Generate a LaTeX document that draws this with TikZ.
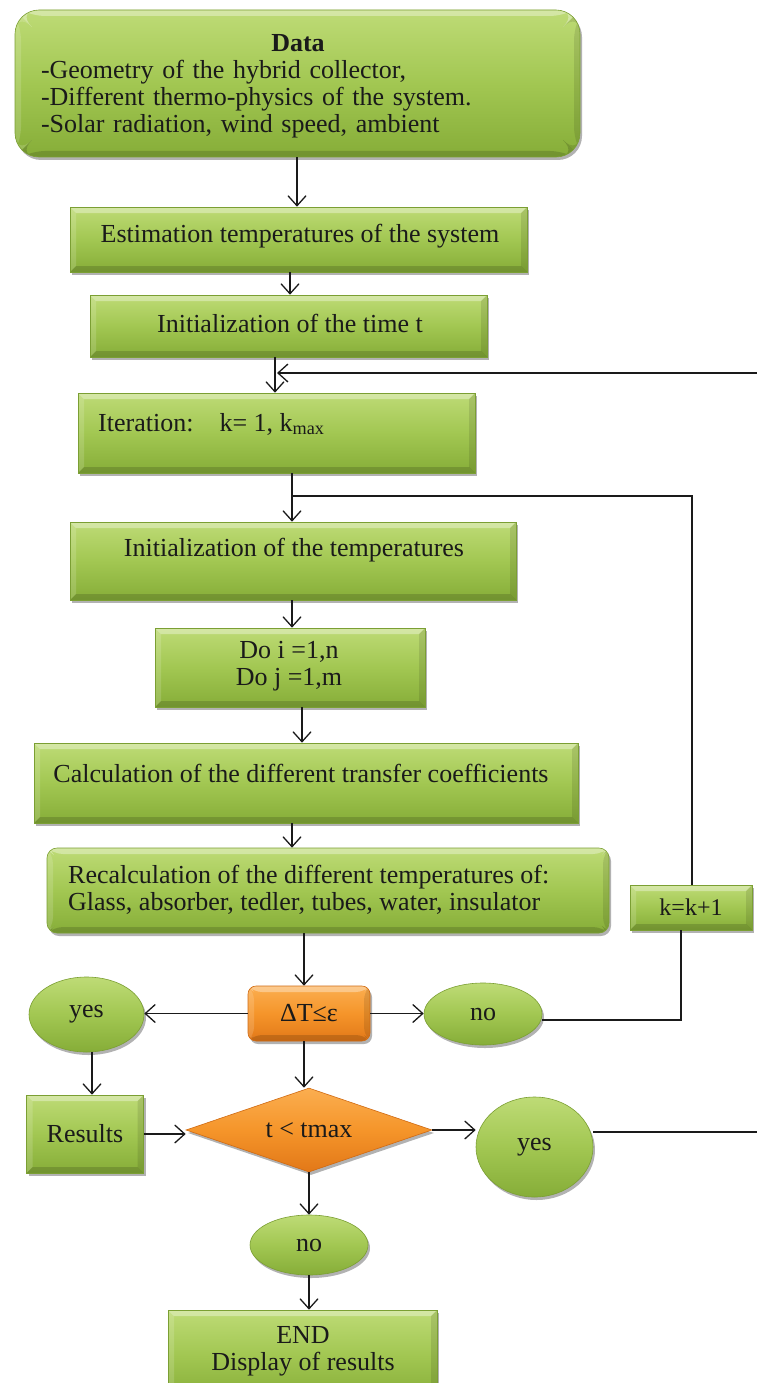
\documentclass[tikz,border=0pt]{standalone}
\usepackage{fontspec}
\setmainfont{Liberation Serif}
\usetikzlibrary{shapes.geometric,arrows.meta,shadows,calc}

\definecolor{gtop}{HTML}{BEDB76}
\definecolor{gmid}{HTML}{A2C752}
\definecolor{gbot}{HTML}{86AD38}
\definecolor{gedge}{HTML}{7B9F33}
\definecolor{otop}{HTML}{FBAE50}
\definecolor{omid}{HTML}{F5952A}
\definecolor{obot}{HTML}{E27818}
\definecolor{oedge}{HTML}{D06A12}
\definecolor{ink}{HTML}{1A1A1A}

\tikzset{
  textfont/.style={font=\fontsize{26}{27}\selectfont, text=ink},
  shade base/.style={line width=0.6pt, inner sep=0pt, textfont,
    drop shadow={shadow xshift=2pt, shadow yshift=-3pt, opacity=0.3, fill=black}},
  greenbox/.style={shade base, draw=gedge, top color=gtop, bottom color=gbot, middle color=gmid},
  orangebox/.style={shade base, draw=oedge, top color=otop, bottom color=obot, middle color=omid},
  greenoval/.style={greenbox, ellipse},
  % bevelled edges of the rectangular blocks
  bevel/.style={path picture={
    \coordinate (bnw) at (path picture bounding box.north west);
    \coordinate (bne) at (path picture bounding box.north east);
    \coordinate (bsw) at (path picture bounding box.south west);
    \coordinate (bse) at (path picture bounding box.south east);
    \fill[white,opacity=0.35] (bnw) -- (bne) -- ([xshift=-6pt,yshift=-6pt]bne) -- ([xshift=6pt,yshift=-6pt]bnw) -- cycle;
    \fill[white,opacity=0.15] (bnw) -- ([xshift=6pt,yshift=-6pt]bnw) -- ([xshift=6pt,yshift=6pt]bsw) -- (bsw) -- cycle;
    \fill[black,opacity=0.10] (bne) -- ([xshift=-6pt,yshift=-6pt]bne) -- ([xshift=-6pt,yshift=6pt]bse) -- (bse) -- cycle;
    \fill[black,opacity=0.15] (bsw) -- (bse) -- ([xshift=-6pt,yshift=6pt]bse) -- ([xshift=6pt,yshift=6pt]bsw) -- cycle;
  }},
  block/.style={greenbox, bevel},
  txt/.style={inner sep=0pt, textfont},
  arr/.style={draw=ink, line width=1.3pt, -{Straight Barb[length=10pt,width=18pt]}},
  link/.style={draw=ink, line width=1.3pt},
}

\begin{document}
\begin{tikzpicture}[x=1pt,y=-1pt]
\useasboundingbox (0,0) rectangle (757,1383);
\fill[white] (0,0) rectangle (757,1383);

% input data
\node[block, rounded corners=24, minimum width=565, minimum height=147] (data) at (297.5,83.5) {};
\node[txt, text width=514, align=left] (datat) at (298,86)
  {\makebox[\linewidth]{\textbf{Data}}\\
   -Geometry of the hybrid collector,\\
   -Different thermo-physics of the system.\\
   -Solar radiation, wind speed, ambient};

% initialisation steps
\node[block, minimum width=457, minimum height=65] (est) at (298.5,239.5) {};
\node[txt] (estt) at (300,236) {Estimation temperatures of the system};
\node[block, minimum width=397, minimum height=62] (initt) at (288.5,326) {};
\node[txt] (inittt) at (290,323) {Initialization of the time t};
\node[block, minimum width=397, minimum height=80] (iter) at (276.5,433) {};
\node[txt, anchor=west] (itert) at (98,424) {Iteration:\quad k= 1, k\textsubscript{max}};

% inner loop
\node[block, minimum width=446, minimum height=78] (inittemp) at (293,561) {};
\node[txt] (inittempt) at (294,550) {Initialization of the temperatures};
\node[block, minimum width=270, minimum height=79] (do) at (290,667.5) {};
\node[txt, align=center] (dot) at (289,666.5) {Do i =1,n\\Do j =1,m};
\node[block, minimum width=544, minimum height=80] (calc) at (306,783) {};
\node[txt] (calct) at (301,773) {Calculation of the different transfer coefficients};
\node[block, rounded corners=10, minimum width=562, minimum height=85] (recalc) at (328,890.5) {};
\node[txt, anchor=west, align=left] (recalct) at (68,890)
  {Recalculation of the different temperatures of:\\Glass, absorber, tedler, tubes, water, insulator};
\node[block, minimum width=122, minimum height=45, font=\fontsize{24}{26}\selectfont] (kk) at (691,907.5) {k=k+1};

% convergence test
\node[orangebox, bevel, rounded corners=8, minimum width=122, minimum height=55] (dt) at (309,1013.5) {ΔT≤ε};
\node[greenoval, minimum width=115, minimum height=75] (yes1) at (86.5,1014.5) {yes};
\node[greenoval, minimum width=118, minimum height=62] (no1) at (483,1014) {no};

% time test
\node[block, minimum width=117, minimum height=78] (res) at (85,1134) {Results};
\node[orangebox, diamond, aspect=3, minimum width=246, minimum height=84] (dia) at (309,1130) {t < tmax};
\node[greenoval, minimum width=117, minimum height=100] (yes2) at (534.5,1147) {yes};
\node[greenoval, minimum width=118, minimum height=60] (no2) at (309,1245) {no};
\node[block, minimum width=269, minimum height=90] (end) at (302.5,1355) {};
\node[txt, align=center] (endt) at (303,1351) {END\\Display of results};

% junctions of the feedback loops
\coordinate (j1) at (277,373);
\coordinate (j2) at (292,496);

% main flow
\draw[arr] (data.south -| 297,0) -- (est.north -| 297,0);
\draw[arr] (est.south -| 290,0) -- (initt.north -| 290,0);
\draw[arr] (initt.south -| 275,0) -- (iter.north -| 275,0);
\draw[arr] (iter.south -| 292,0) -- (inittemp.north -| 292,0);
\draw[arr] (inittemp.south -| 292,0) -- (do.north -| 292,0);
\draw[arr] (do.south -| 302,0) -- (calc.north -| 302,0);
\draw[arr] (calc.south -| 292,0) -- (recalc.north -| 292,0);
\draw[arr] (recalc.south -| 304,0) -- (dt.north -| 304,0);
\draw[arr] (dt.west) -- (dt.west -| yes1.east);
\draw[arr] (dt.east) -- (dt.east -| no1.west);
\draw[arr] (dt.south -| 304,0) -- (dia.north -| 304,0);
\draw[arr] (yes1.south -| 92,0) -- (res.north -| 92,0);
\draw[arr] (res.east) -- (res.east -| dia.west);
\draw[arr] (dia.east) -- (dia.east -| yes2.west);
\draw[arr] (dia.south) -- (no2.north);
\draw[arr] (no2.south) -- (no2.south |- end.north);

% iteration loop: no -> k=k+1 -> back to the temperature initialisation
\draw[link] ([yshift=-6pt]no1.east) -| (kk.south -| 681,0);
\draw[link] (kk.north -| 692,0) |- (j2);

% time loop: yes -> back to the iteration
\draw[arr] ([yshift=15pt]yes2.east) -- ++(230,0) |- (j1);
\end{tikzpicture}
\end{document}
